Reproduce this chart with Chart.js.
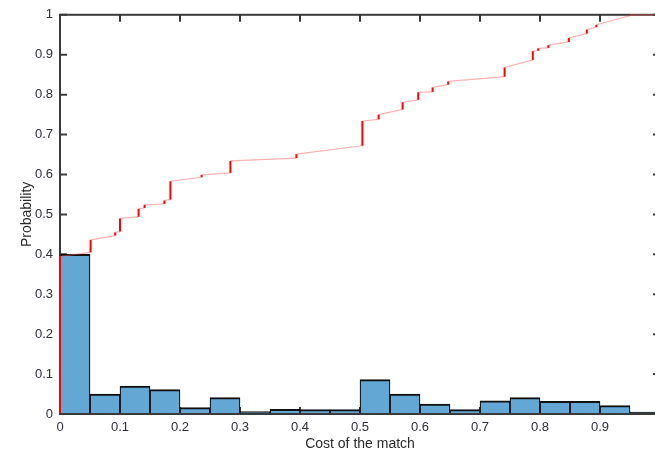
<!DOCTYPE html>
<html>
<head>
<meta charset="utf-8">
<script src="https://cdn.jsdelivr.net/npm/chart.js@4/dist/chart.umd.min.js"></script>
<style>
  html, body { margin: 0; padding: 0; background: #fff; overflow: hidden; }
  #wrap { width: 665px; height: 457px; }
</style>
</head>
<body>
<div id="wrap"><canvas id="matchChart" width="665" height="457"></canvas></div>
<script>
// histogram of the match cost, bins of width 0.05
const binStarts = [0, 0.05, 0.1, 0.15, 0.2, 0.25, 0.3, 0.35, 0.4, 0.45,
                   0.5, 0.55, 0.6, 0.65, 0.7, 0.75, 0.8, 0.85, 0.9, 0.95];
const binProb = [0.40, 0.050, 0.070, 0.061, 0.016, 0.041, 0.006, 0.012, 0.011, 0.011,
                 0.086, 0.050, 0.025, 0.011, 0.033, 0.041, 0.032, 0.032, 0.021, 0.005];
const binWidth = 0.05;

// empirical CDF: where it jumps, and its level just before / just after
const jumpX = [0, 0.051, 0.092, 0.100, 0.131, 0.141, 0.174, 0.184, 0.236, 0.284,
               0.394, 0.504, 0.531, 0.571, 0.597, 0.621, 0.647, 0.741, 0.788, 0.797,
               0.814, 0.848, 0.878, 0.894, 0.950];
const levelBefore = [0, 0.405, 0.447, 0.457, 0.494, 0.516, 0.526, 0.537, 0.593, 0.604,
                     0.641, 0.672, 0.738, 0.763, 0.787, 0.807, 0.825, 0.845, 0.887, 0.910,
                     0.917, 0.932, 0.953, 0.969, 0.998];
const levelAfter = [0.395, 0.436, 0.455, 0.490, 0.514, 0.524, 0.535, 0.583, 0.599, 0.634,
                    0.651, 0.734, 0.750, 0.781, 0.806, 0.818, 0.833, 0.868, 0.909, 0.916,
                    0.924, 0.942, 0.963, 0.975, 1.0];
const cdfEnd = 1;

const xTicks = [0, 0.1, 0.2, 0.3, 0.4, 0.5, 0.6, 0.7, 0.8, 0.9];
const yTicks = [0, 0.1, 0.2, 0.3, 0.4, 0.5, 0.6, 0.7, 0.8, 0.9, 1];

const histData = binStarts.map((s, i) => ({ x: s + binWidth / 2, y: binProb[i] }));

const cdfData = [];
jumpX.forEach((x, i) => {
  cdfData.push({ x: x, y: levelBefore[i] });
  cdfData.push({ x: x, y: levelAfter[i] });
});
cdfData.push({ x: cdfEnd, y: levelAfter[levelAfter.length - 1] });

const isJump = c => c.p0.parsed.x === c.p1.parsed.x;

// box around the plot with inward ticks on every side
const frame = {
  id: 'frame',
  beforeDatasetsDraw(chart) {
    const { ctx, chartArea: a, scales: { x, y } } = chart;
    ctx.save();
    ctx.strokeStyle = '#3a3a3a';
    ctx.lineWidth = 2;
    ctx.strokeRect(a.left, a.top, a.right - a.left, a.bottom - a.top);
    ctx.beginPath();
    yTicks.forEach(v => {
      const p = y.getPixelForValue(v);
      ctx.moveTo(a.left, p); ctx.lineTo(a.left + 7, p);
      ctx.moveTo(a.right, p); ctx.lineTo(a.right - 7, p);
    });
    xTicks.forEach(v => {
      const p = x.getPixelForValue(v);
      ctx.moveTo(p, a.top); ctx.lineTo(p, a.top + 7);
      ctx.moveTo(p, a.bottom); ctx.lineTo(p, a.bottom - 7);
    });
    ctx.stroke();
    ctx.restore();
  },
  afterDatasetsDraw(chart) {
    const { ctx, chartArea: a } = chart;
    ctx.save();
    ctx.strokeStyle = '#3a3a3a';
    ctx.lineWidth = 2;
    ctx.beginPath();
    ctx.moveTo(a.left, a.bottom);
    ctx.lineTo(a.right, a.bottom);
    ctx.stroke();
    ctx.restore();
  }
};

Chart.defaults.font.family = '"Liberation Sans", Arial, sans-serif';
Chart.defaults.color = '#2e2e3e';

new Chart(document.getElementById('matchChart'), {
  type: 'bar',
  data: {
    datasets: [
      {
        type: 'line',
        data: cdfData,
        order: 0,
        borderColor: '#ff0000',
        borderWidth: 1.2,
        pointRadius: 0,
        tension: 0,
        fill: false,
        clip: false,
        segment: {
          borderColor: c => isJump(c) ? '#ff0000' : 'rgba(255, 80, 80, 0.45)',
          borderWidth: c => isJump(c) ? 2 : 1.2
        }
      },
      {
        data: histData,
        order: 1,
        backgroundColor: '#63a7d5',
        borderColor: '#111111',
        borderWidth: { top: 2, left: 1.25, right: 1.25, bottom: 0 },
        borderSkipped: 'start',
        barPercentage: 1,
        categoryPercentage: 1
      }
    ]
  },
  options: {
    responsive: false,
    animation: false,
    layout: { padding: { top: 11, right: 5, left: 0, bottom: 0 } },
    plugins: { legend: { display: false }, tooltip: { enabled: false } },
    scales: {
      x: {
        type: 'linear',
        min: 0,
        max: 1,
        offset: false,
        grid: { display: false, drawTicks: false },
        border: { display: false },
        afterBuildTicks: s => { s.ticks = xTicks.map(v => ({ value: v })); },
        afterFit: s => { s.height = 43; },
        ticks: { font: { size: 13 }, padding: 6, maxRotation: 0, callback: v => String(v) },
        title: { display: true, text: 'Cost of the match', font: { size: 14 }, color: '#2a2a2a' }
      },
      y: {
        min: 0,
        max: 1,
        grid: { display: false, drawTicks: false },
        border: { display: false },
        afterBuildTicks: s => { s.ticks = yTicks.map(v => ({ value: v })); },
        afterFit: s => { s.width = 60; },
        ticks: { font: { size: 13 }, padding: 7, callback: v => String(v) },
        title: { display: true, text: 'Probability', font: { size: 14 }, color: '#2a2a2a', padding: { top: 19, bottom: 0 } }
      }
    }
  },
  plugins: [frame]
});
</script>
</body>
</html>
